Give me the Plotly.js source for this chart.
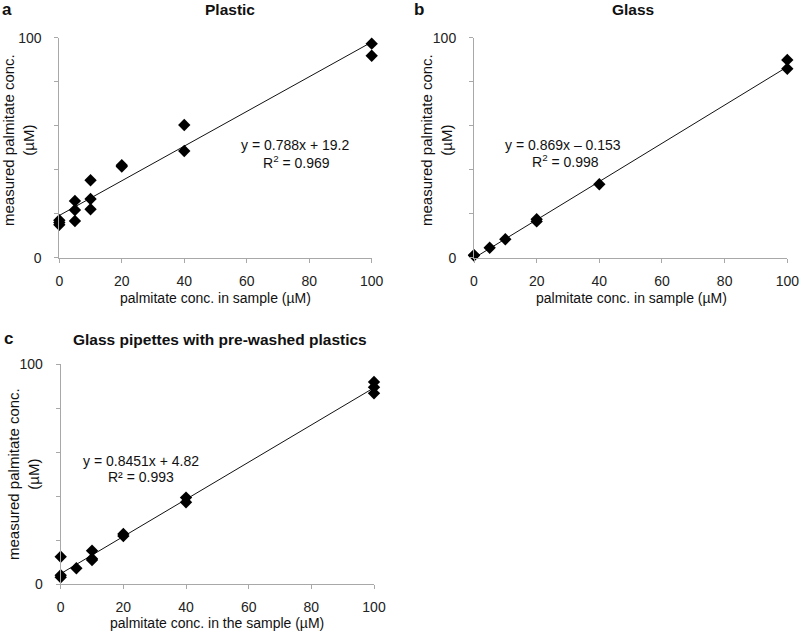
<!DOCTYPE html>
<html>
<head>
<meta charset="utf-8">
<script src="https://cdn.plot.ly/plotly-3.0.1.min.js"></script>
<style>html,body{margin:0;padding:0;background:#fff;}#chart{width:800px;height:633px;}</style>
</head>
<body>
<div id="chart"></div>
<script>
// ---- data ----
const plasticX = [0, 0, 0, 5, 5, 5, 10, 10, 10, 20, 20, 40, 40, 100, 100];
const plasticY = [17.0, 15.0, 16.0, 25.8, 21.7, 16.7, 35.2, 26.7, 22.0, 42.0, 41.4, 60.3, 48.5, 97.3, 91.8];
const plasticTrendX = [0, 100];
const plasticTrendY = [19.2, 98.0];

const glassX = [0, 0, 5, 10, 20, 20, 40, 100, 100];
const glassY = [1.2, 1.0, 4.5, 8.4, 17.5, 16.5, 33.4, 89.9, 85.9];
const glassTrendX = [0, 100];
const glassTrendY = [-0.153, 86.75];

const washedX = [0, 0, 0, 5, 10, 10, 10, 20, 20, 40, 40, 100, 100, 100];
const washedY = [12.5, 4.1, 3.2, 7.3, 15.3, 11.6, 11.0, 22.9, 21.9, 39.4, 37.3, 92.0, 89.6, 86.8];
const washedTrendX = [0, 100];
const washedTrendY = [4.82, 89.33];

const xTickVals = [0, 20, 40, 60, 80, 100];
const xTickText = ['0', '20', '40', '60', '80', '100'];
const yTickVals = [0, 20, 40, 60, 80, 100];
const yTickText = ['0', '', '', '', '', '100'];

const panelTitles = ['Plastic', 'Glass', 'Glass pipettes with pre-washed plastics'];
const panelLetters = ['a', 'b', 'c'];
const xTitles = ['palmitate conc. in sample (µM)', 'palmitate conc. in sample (µM)', 'palmitate conc. in the sample (µM)'];
const yTitle = 'measured palmitate conc.<br>(µM)';
const equations = ['y = 0.788x + 19.2', 'y = 0.869x – 0.153', 'y = 0.8451x + 4.82'];
const rSquared = ['R<sup>2</sup> = 0.969', 'R<sup>2</sup> = 0.998', 'R² = 0.993'];

// ---- build ----
const W = 800, H = 633;
const px = v => v / W;
const py = v => 1 - v / H;
const FONT = 'Liberation Sans, Arial, Helvetica, sans-serif';

function scatter(x, y, xa, ya) {
  return {x: x, y: y, xaxis: xa, yaxis: ya, type: 'scatter', mode: 'markers',
    cliponaxis: false,
    marker: {symbol: 'diamond', size: 9.5, color: '#000'}, hoverinfo: 'x+y'};
}
function trend(x, y, xa, ya) {
  return {x: x, y: y, xaxis: xa, yaxis: ya, type: 'scatter', mode: 'lines',
    line: {color: '#111', width: 1}, hoverinfo: 'skip'};
}
const data = [
  trend(plasticTrendX, plasticTrendY, 'x', 'y'),
  scatter(plasticX, plasticY, 'x', 'y'),
  trend(glassTrendX, glassTrendY, 'x2', 'y2'),
  scatter(glassX, glassY, 'x2', 'y2'),
  trend(washedTrendX, washedTrendY, 'x3', 'y3'),
  scatter(washedX, washedY, 'x3', 'y3')
];

function xaxis(domain, anchor) {
  return {domain: domain, anchor: anchor, range: [0, 100], showgrid: false, zeroline: false,
    showline: true, linecolor: '#a8a8a8', linewidth: 1, ticks: 'outside', ticklen: 4,
    tickcolor: '#a8a8a8', tickvals: xTickVals, ticktext: xTickText, ticklabelstandoff: 6,
    tickfont: {family: FONT, size: 14, color: '#222'}, fixedrange: true};
}
function yaxis(domain, anchor) {
  return {domain: domain, anchor: anchor, range: [0, 100], showgrid: false, zeroline: false,
    showline: true, linecolor: '#a8a8a8', linewidth: 1, ticks: 'outside', ticklen: 4,
    tickcolor: '#a8a8a8', tickvals: yTickVals, ticktext: yTickText, ticklabelstandoff: 10,
    tickfont: {family: FONT, size: 14, color: '#222'}, fixedrange: true};
}

// panel geometry (pixel positions of plot areas)
const panels = [
  {l: 59.3, r: 371.7, t: 37.7, b: 257.7},
  {l: 474, r: 787.3, t: 37.7, b: 257.7},
  {l: 60.7, r: 374, t: 364.3, b: 584.3}
];

const ann = [];
function text(t, x, y, opts) {
  ann.push(Object.assign({text: t, x: px(x), y: py(y), xref: 'paper', yref: 'paper',
    showarrow: false, xanchor: 'center', yanchor: 'middle',
    font: {family: FONT, size: 14, color: '#111'}}, opts || {}));
}
const bold = s => ({family: FONT, size: s, color: '#111', weight: 'bold'});
// titles
text(panelTitles[0], 230, 10, {font: bold(15.5)});
text(panelTitles[1], 633, 10, {font: bold(15.5)});
text(panelTitles[2], 220, 339, {font: bold(15.5)});
// letters
text(panelLetters[0], 7, 10, {font: bold(17)});
text(panelLetters[1], 419, 10, {font: bold(17)});
text(panelLetters[2], 8, 338, {font: bold(17)});
// x titles
text(xTitles[0], 215, 298);
text(xTitles[1], 631, 298);
text(xTitles[2], 217, 623);
// y titles
text(yTitle, 18, 140, {textangle: -90, font: {family: FONT, size: 15, color: '#111'}});
text(yTitle, 436, 140, {textangle: -90, font: {family: FONT, size: 15, color: '#111'}});
text(yTitle, 23, 474, {textangle: -90, font: {family: FONT, size: 15, color: '#111'}});
// equations
text(equations[0], 295, 145);
text(rSquared[0], 296, 162);
text(equations[1], 563, 145);
text(rSquared[1], 565, 161);
text(equations[2], 141, 461);
text(rSquared[2], 141, 477);

const layout = {
  width: W, height: H, margin: {l: 0, r: 0, t: 0, b: 0},
  paper_bgcolor: '#fff', plot_bgcolor: '#fff', showlegend: false,
  font: {family: FONT, size: 14, color: '#111'},
  xaxis: xaxis([px(panels[0].l), px(panels[0].r)], 'y'),
  yaxis: yaxis([py(panels[0].b), py(panels[0].t)], 'x'),
  xaxis2: xaxis([px(panels[1].l), px(panels[1].r)], 'y2'),
  yaxis2: yaxis([py(panels[1].b), py(panels[1].t)], 'x2'),
  xaxis3: xaxis([px(panels[2].l), px(panels[2].r)], 'y3'),
  yaxis3: yaxis([py(panels[2].b), py(panels[2].t)], 'x3'),
  annotations: ann
};

Plotly.newPlot('chart', data, layout, {displayModeBar: false, staticPlot: true});
</script>
</body>
</html>
